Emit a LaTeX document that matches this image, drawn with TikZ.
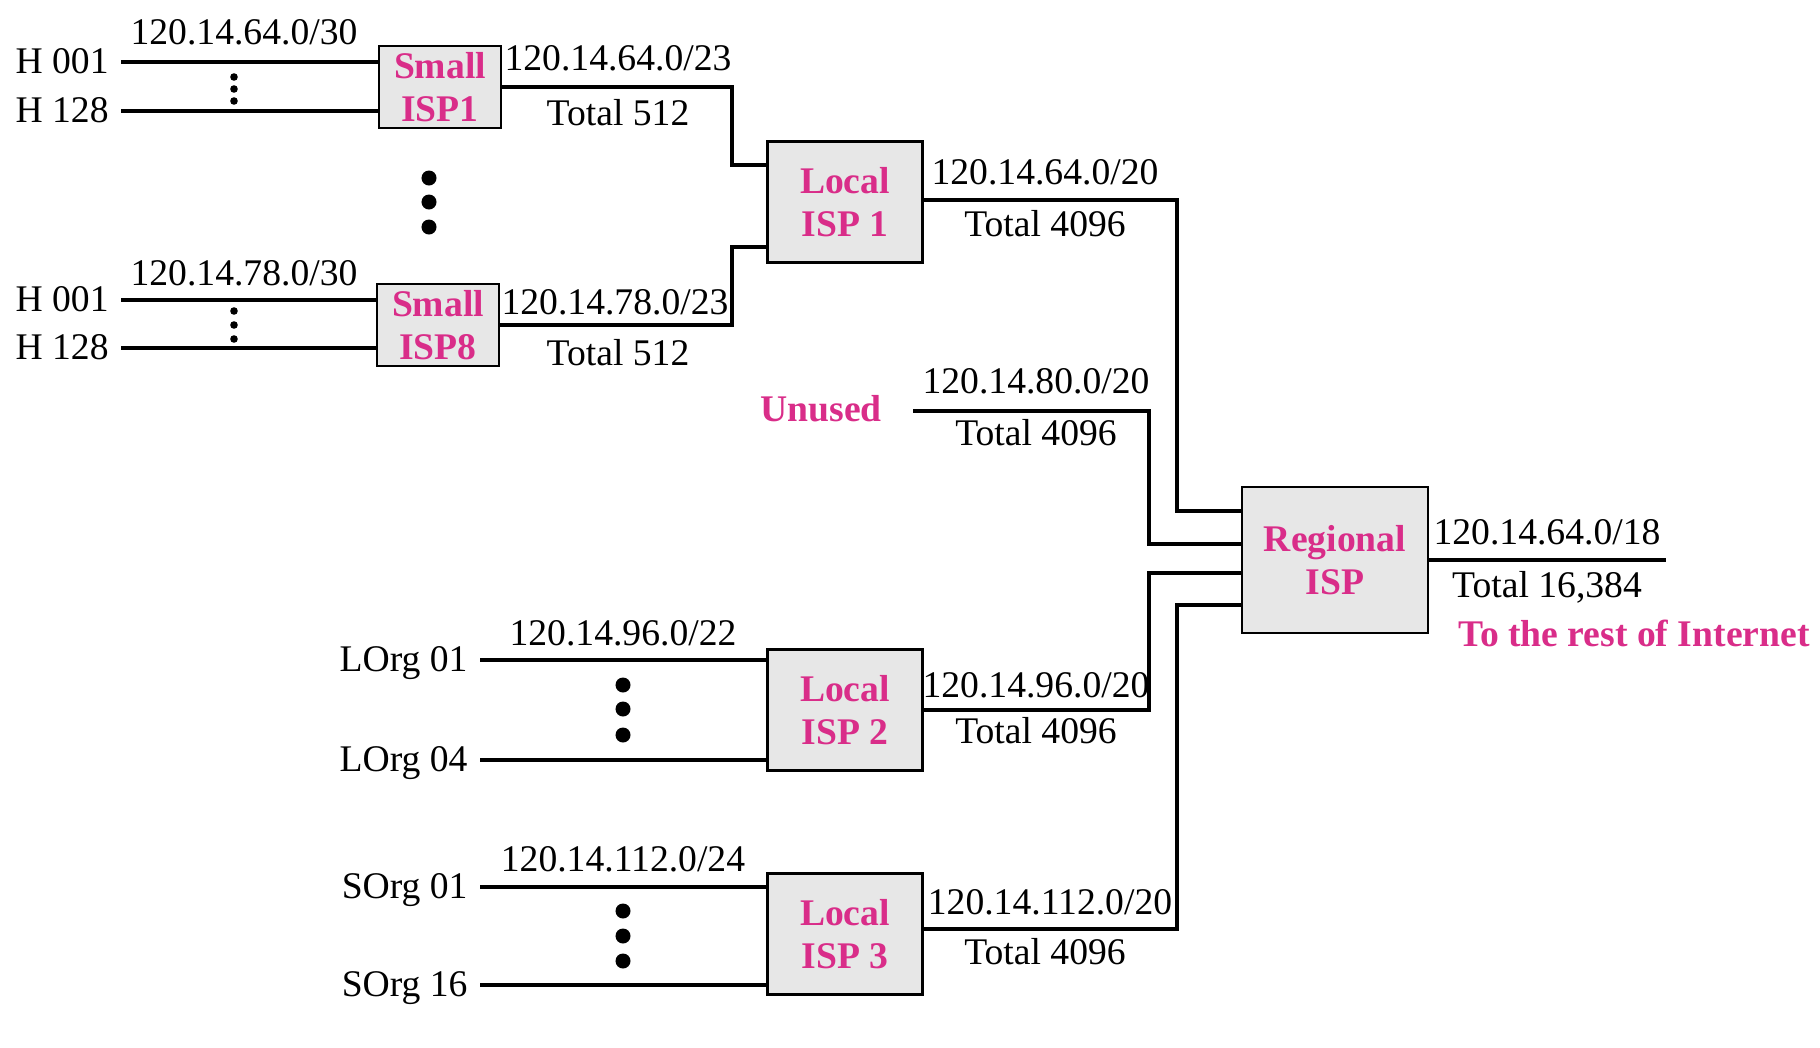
\documentclass[tikz,border=0pt]{standalone}
\usepackage{fontspec}
\setmainfont{Liberation Serif}
\usepackage{tikz}

\definecolor{ispmag}{RGB}{217,45,137}
\definecolor{boxgray}{RGB}{231,231,231}
\newcommand\labelsize{\fontsize{10.7}{12.2}\selectfont}

\tikzset{
  isp/.style={draw, fill=boxgray, line width=0.6pt, align=center,
    font=\labelsize\bfseries, text=ispmag, inner sep=0pt},
  smallbox/.style={minimum width=1.22cm, minimum height=0.82cm},
  localbox/.style={minimum width=1.55cm, minimum height=1.21cm},
  regionbox/.style={minimum width=1.86cm, minimum height=1.46cm},
  host/.style={anchor=east, text height=0.66em, text depth=0pt},
  link/.style={line width=1pt},
}

\begin{document}
\begin{tikzpicture}[x=0.01cm, y=-0.01cm, font=\labelsize]
        \useasboundingbox (0,0) rectangle (1820,1048);

        % boxes
        \node[isp, smallbox] (sisp1) at (440,87) {Small\\ISP1};
        \node[isp, smallbox] (sisp8) at (438,325) {Small\\ISP8};
        \node[isp, localbox] (lisp1) at (845,202) {Local\\ISP 1};
        \node[isp, localbox] (lisp2) at (845,710) {Local\\ISP 2};
        \node[isp, localbox] (lisp3) at (845,934) {Local\\ISP 3};
        \node[isp, regionbox] (risp) at (1335,560) {Regional\\ISP};

        % hosts and organizations
        \node[host] (h1a) at (121,62) {H 001};
        \node[host] (h1b) at (121,111) {H 128};
        \node[host] (h8a) at (121,300) {H 001};
        \node[host] (h8b) at (121,348) {H 128};
        \node[host] (lorg1) at (480,660) {LOrg 01};
        \node[host] (lorg4) at (480,760) {LOrg 04};
        \node[host] (sorg1) at (480,887) {SOrg 01};
        \node[host] (sorg16) at (480,985) {SOrg 16};

        \draw[link] (h1a.east) -- (h1a.east -| sisp1.west);
        \draw[link] (h1b.east) -- (h1b.east -| sisp1.west);
        \draw[link] (h8a.east) -- (h8a.east -| sisp8.west);
        \draw[link] (h8b.east) -- (h8b.east -| sisp8.west);
        \draw[link] (lorg1.east) -- (lorg1.east -| lisp2.west);
        \draw[link] (lorg4.east) -- (lorg4.east -| lisp2.west);
        \draw[link] (sorg1.east) -- (sorg1.east -| lisp3.west);
        \draw[link] (sorg16.east) -- (sorg16.east -| lisp3.west);

        % bends
        \coordinate (col1) at (732,0);
        \coordinate (col2) at (1149,0);
        \coordinate (col3) at (1177,0);
        \node[text=ispmag, font=\labelsize\bfseries] (unused) at (821,409) {Unused};
        \coordinate (unusedend) at (913,411);
        \coordinate (inet) at (1666,560);

        \draw[link] (sisp1.east) -- (sisp1.east -| col1) |- ([yshift=.37cm]lisp1.west);
        \draw[link] (sisp8.east) -- (sisp8.east -| col1) |- ([yshift=-.45cm]lisp1.west);
        \draw[link] ([yshift=.02cm]lisp1.east) -- ([yshift=.02cm]lisp1.east -| col3) |- ([yshift=.49cm]risp.west);
        \draw[link] (unusedend) -- (unusedend -| col2) |- ([yshift=.16cm]risp.west);
        \draw[link] (lisp2.east) -- (lisp2.east -| col2) |- ([yshift=-.13cm]risp.west);
        \draw[link] ([yshift=.05cm]lisp3.east) -- ([yshift=.05cm]lisp3.east -| col3) |- ([yshift=-.45cm]risp.west);
        \draw[link] (risp.east) -- (inet);

        % addresses
        \node (a30) at (244,32) {120.14.64.0/30};
        \node (a23) at (618,58) {120.14.64.0/23};
        \node (a512) at (618,113) {Total 512};
        \node (b30) at (244,273) {120.14.78.0/30};
        \node (b23) at (615,302) {120.14.78.0/23};
        \node (b512) at (618,353) {Total 512};
        \node (l20) at (1045,172) {120.14.64.0/20};
        \node (l4096) at (1045,224) {Total 4096};
        \node (u20) at (1036,381) {120.14.80.0/20};
        \node (u4096) at (1036,433) {Total 4096};
        \node (d22) at (623,633) {120.14.96.0/22};
        \node (d20) at (1036,685) {120.14.96.0/20};
        \node (d4096) at (1036,731) {Total 4096};
        \node (s24) at (623,859) {120.14.112.0/24};
        \node (s20) at (1050,902) {120.14.112.0/20};
        \node (s4096) at (1045,952) {Total 4096};
        \node (r18) at (1547,532) {120.14.64.0/18};
        \node (r16k) at (1547,587) {Total 16,384};
        \node[text=ispmag, font=\labelsize\bfseries] (rest) at (1634,633) {To the rest of Internet};

        % dots
        \fill (234,77) circle (0.38mm) (234,89) circle (0.38mm) (234,101) circle (0.38mm);
        \fill (234,311) circle (0.38mm) (234,325) circle (0.38mm) (234,339) circle (0.38mm);
        \fill (429,178) circle (0.75mm) (429,202) circle (0.75mm) (429,227) circle (0.75mm);
        \fill (623,685) circle (0.75mm) (623,709) circle (0.75mm) (623,735) circle (0.75mm);
        \fill (623,911) circle (0.75mm) (623,936) circle (0.75mm) (623,961) circle (0.75mm);
    \end{tikzpicture}
\end{document}
